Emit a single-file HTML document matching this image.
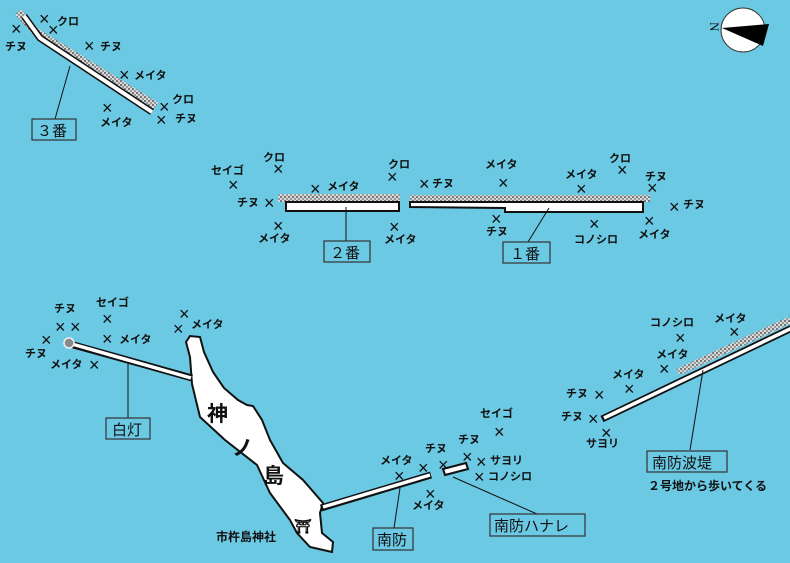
<!DOCTYPE html>
<html><head><meta charset="utf-8"><style>
html,body{margin:0;padding:0;background:#6bc9e3;}
svg{display:block;}
text{font-family:"Liberation Sans","Noto Sans CJK JP",sans-serif;font-weight:bold;font-size:11px;fill:#111;}
.x{font-size:18px;font-weight:normal;}
.lb{font-size:15px;font-weight:normal;}
</style></head><body>
<svg width="790" height="563" viewBox="0 0 790 563" xmlns="http://www.w3.org/2000/svg">
<defs>
<pattern id="rb" width="4" height="4" patternUnits="userSpaceOnUse">
<rect width="4" height="4" fill="#d8d8d8"/><rect width="2" height="2" fill="#777"/><rect x="2" y="2" width="2" height="2" fill="#999"/>
</pattern>
</defs>
<rect width="790" height="563" fill="#6bc9e3"/>

<!-- 3番 -->
<polyline points="18,12 36,32 156,106" fill="none" stroke="url(#rb)" stroke-width="8"/>
<polyline points="24,16 40,38 152,112" fill="none" stroke="#111" stroke-width="7"/>
<polyline points="24,16 40,38 152,112" fill="none" stroke="#fff" stroke-width="4"/>
<line x1="70" y1="66" x2="55" y2="119" stroke="#111" stroke-width="1"/>
<rect x="32" y="119" width="44" height="21" fill="#6bc9e3" stroke="#333" stroke-width="1.2"/>
<text x="37" y="136" class="lb">３番</text>

<!-- 2番 -->
<rect x="278" y="194" width="122" height="8" fill="url(#rb)"/>
<rect x="286" y="202" width="113" height="9" fill="#fff" stroke="#111" stroke-width="2"/>
<line x1="346" y1="207" x2="346" y2="241" stroke="#111"/>
<rect x="324" y="241" width="46" height="21" fill="#6bc9e3" stroke="#333" stroke-width="1.2"/>
<text x="330" y="258" class="lb">２番</text>

<!-- 1番 -->
<rect x="410" y="195" width="240" height="7" fill="url(#rb)"/>
<polygon points="410,202 643,202 643,212 505,212 505,208 410,207" fill="#fff" stroke="#111" stroke-width="2"/>
<line x1="549" y1="208" x2="528" y2="242" stroke="#111"/>
<rect x="503" y="242" width="47" height="21" fill="#6bc9e3" stroke="#333" stroke-width="1.2"/>
<text x="510" y="259" class="lb">１番</text>

<!-- island -->
<polygon points="186,342 190,336 200,337 204,352 213,372 224,388 238,400 247,405 253,406 262,420 270,440 283,463 303,480 323,503 320,513 322,533 333,542 332,552 310,547 297,533 290,520 270,493 257,465 225,440 200,417 192,384 190,357" fill="#fff" stroke="#111" stroke-width="2"/>
<text x="207" y="421" style="font-size:21px">神</text>
<text x="232" y="455" style="font-size:21px">ノ</text>
<text x="263" y="483" style="font-size:21px">島</text>
<text x="294" y="531" style="font-size:14px">⛩</text>
<text x="216" y="541" style="font-size:12px">市杵島神社</text>

<!-- 白灯 -->
<line x1="70" y1="344" x2="192" y2="378" stroke="#111" stroke-width="7"/>
<line x1="72" y1="344" x2="191" y2="378" stroke="#fff" stroke-width="3.5"/>
<circle cx="69" cy="343" r="5" fill="#888" stroke="#eee" stroke-width="1.5"/>
<line x1="128" y1="362" x2="128" y2="418" stroke="#111"/>
<rect x="106" y="418" width="44" height="21" fill="#6bc9e3" stroke="#333" stroke-width="1.2"/>
<text x="112" y="435" class="lb">白灯</text>

<!-- 南防 -->
<line x1="321" y1="508" x2="431" y2="475" stroke="#111" stroke-width="7"/>
<line x1="323" y1="507" x2="430" y2="475" stroke="#fff" stroke-width="3.5"/>
<line x1="400" y1="488" x2="394" y2="528" stroke="#111"/>
<rect x="373" y="528" width="40" height="22" fill="#6bc9e3" stroke="#333" stroke-width="1.2"/>
<text x="377" y="545" class="lb">南防</text>
<polygon points="443,469 466,463 468,469 445,475" fill="#fff" stroke="#111" stroke-width="2"/>
<line x1="453" y1="477" x2="537" y2="514" stroke="#111"/>
<rect x="490" y="514" width="95" height="22" fill="#6bc9e3" stroke="#333" stroke-width="1.2"/>
<text x="494" y="531" class="lb">南防ハナレ</text>

<!-- 南防波堤 -->
<line x1="678" y1="372" x2="790" y2="320" stroke="url(#rb)" stroke-width="7"/>
<line x1="602" y1="419" x2="792" y2="328" stroke="#111" stroke-width="7"/>
<line x1="604" y1="418" x2="792" y2="328" stroke="#fff" stroke-width="3.5"/>
<line x1="703" y1="370" x2="690" y2="450" stroke="#111"/>
<rect x="647" y="451" width="80" height="21" fill="#6bc9e3" stroke="#333" stroke-width="1.2"/>
<text x="652" y="468" class="lb">南防波堤</text>
<text x="648" y="490" style="font-size:12px">２号地から歩いてくる</text>

<!-- compass -->
<circle cx="743" cy="30" r="22" fill="#fff" stroke="#333" stroke-width="1"/>
<polygon points="722,28 769,24 763,46" fill="#000"/>
<text x="0" y="0" transform="translate(710,22) rotate(90)" style="font-family:'Liberation Serif',serif;font-size:13px;font-weight:normal">N</text>

<g transform="translate(-1,3)">
<g class="xs">
<text class="x" x="12" y="32">×</text>
<text class="x" x="40" y="22">×</text>
<text class="x" x="49" y="33">×</text>
<text class="x" x="85" y="49">×</text>
<text class="x" x="120" y="78">×</text>
<text class="x" x="103" y="111">×</text>
<text class="x" x="160" y="110">×</text>
<text class="x" x="157" y="123">×</text>
<text class="x" x="229" y="188">×</text>
<text class="x" x="274" y="172">×</text>
<text class="x" x="265" y="206">×</text>
<text class="x" x="311" y="192">×</text>
<text class="x" x="274" y="229">×</text>
<text class="x" x="388" y="180">×</text>
<text class="x" x="390" y="230">×</text>
<text class="x" x="420" y="187">×</text>
<text class="x" x="499" y="186">×</text>
<text class="x" x="492" y="222">×</text>
<text class="x" x="577" y="192">×</text>
<text class="x" x="618" y="173">×</text>
<text class="x" x="648" y="191">×</text>
<text class="x" x="670" y="210">×</text>
<text class="x" x="645" y="224">×</text>
<text class="x" x="590" y="227">×</text>
<text class="x" x="56" y="330">×</text><text class="x" x="71" y="330">×</text>
<text class="x" x="42" y="343">×</text>
<text class="x" x="90" y="368">×</text>
<text class="x" x="103" y="322">×</text>
<text class="x" x="103" y="342">×</text>
<text class="x" x="180" y="317">×</text><text class="x" x="174" y="332">×</text>
<text class="x" x="395" y="479">×</text>
<text class="x" x="419" y="471">×</text>
<text class="x" x="439" y="468">×</text>
<text class="x" x="463" y="460">×</text>
<text class="x" x="477" y="465">×</text>
<text class="x" x="475" y="480">×</text>
<text class="x" x="495" y="435">×</text>
<text class="x" x="426" y="497">×</text>
<text class="x" x="676" y="341">×</text>
<text class="x" x="730" y="335">×</text>
<text class="x" x="660" y="372">×</text>
<text class="x" x="625" y="392">×</text>
<text class="x" x="595" y="398">×</text>
<text class="x" x="589" y="422">×</text>
<text class="x" x="602" y="436">×</text>
</g>
</g>
<g>
<text x="5" y="50">チヌ</text><text x="57" y="25">クロ</text><text x="100" y="50">チヌ</text>
<text x="134" y="79">メイタ</text><text x="100" y="126">メイタ</text><text x="172" y="103">クロ</text><text x="175" y="122">チヌ</text>
<text x="211" y="174">セイゴ</text><text x="263" y="161">クロ</text><text x="237" y="206">チヌ</text>
<text x="327" y="190">メイタ</text><text x="258" y="242">メイタ</text><text x="388" y="168">クロ</text>
<text x="384" y="243">メイタ</text><text x="432" y="187">チヌ</text><text x="485" y="168">メイタ</text>
<text x="486" y="235">チヌ</text><text x="565" y="178">メイタ</text><text x="609" y="162">クロ</text>
<text x="645" y="180">チヌ</text><text x="683" y="208">チヌ</text><text x="638" y="238">メイタ</text>
<text x="574" y="243">コノシロ</text>
<text x="54" y="312">チヌ</text><text x="25" y="357">チヌ</text><text x="50" y="368">メイタ</text>
<text x="96" y="306">セイゴ</text><text x="119" y="343">メイタ</text><text x="191" y="328">メイタ</text>
<text x="380" y="464">メイタ</text><text x="425" y="452">チヌ</text><text x="458" y="443">チヌ</text>
<text x="490" y="464">サヨリ</text><text x="488" y="480">コノシロ</text><text x="480" y="417">セイゴ</text>
<text x="412" y="509">メイタ</text>
<text x="650" y="326">コノシロ</text><text x="714" y="322">メイタ</text><text x="656" y="358">メイタ</text>
<text x="612" y="378">メイタ</text><text x="566" y="397">チヌ</text><text x="561" y="420">チヌ</text>
<text x="586" y="447">サヨリ</text>
</g>
</svg>
</body></html>
